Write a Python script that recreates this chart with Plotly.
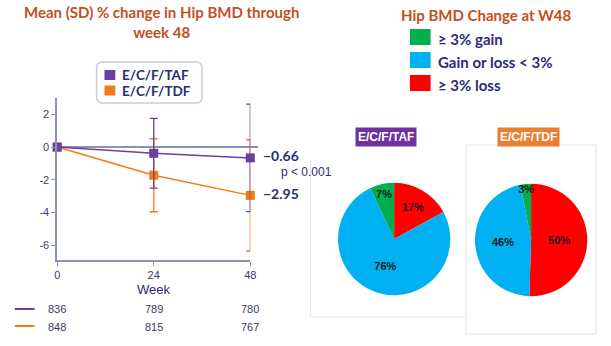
import plotly.graph_objects as go

W, H = 611, 346
def px(x): return x / W
def py(y): return 1 - y / H

weeks = [0, 24, 48]
taf_mean = [0, -0.38, -0.66]
taf_sd = [0, 2.13, 3.28]
tdf_mean = [0, -1.72, -2.95]
tdf_sd = [0, 2.23, 3.40]
taf_n = [836, 789, 780]
tdf_n = [848, 815, 767]

pie_labels = ["\u2265 3% loss", "Gain or loss < 3%", "\u2265 3% gain"]
pie_colors = ["#ff0000", "#00b0f0", "#00b050"]
taf_pie = [17, 76, 7]
tdf_pie = [50, 46, 3]
legend_order = ["\u2265 3% gain", "Gain or loss < 3%", "\u2265 3% loss"]
legend_colors = ["#00b050", "#00b0f0", "#ff0000"]

PURPLE = "#6b3fa0"
ORANGE = "#f07c14"
NAVY = "#2b2b7a"
TITLE = "#c4501f"
AXIS = "#9090b4"

fig = go.Figure()

fig.add_trace(go.Scatter(
    x=weeks, y=tdf_mean, mode="lines+markers",
    line=dict(color=ORANGE, width=1.5),
    marker=dict(symbol="square", size=9, color=ORANGE),
    error_y=dict(type="data", array=tdf_sd, visible=True, color=ORANGE, thickness=1.3, width=4),
    showlegend=False, cliponaxis=False, xaxis="x", yaxis="y"))
fig.add_trace(go.Scatter(
    x=weeks, y=taf_mean, mode="lines+markers",
    line=dict(color=PURPLE, width=1.5),
    marker=dict(symbol="square", size=9, color=PURPLE),
    error_y=dict(type="data", array=taf_sd, visible=True, color=PURPLE, thickness=1.3, width=4),
    showlegend=False, cliponaxis=False, xaxis="x", yaxis="y"))

for vals, dom in [(taf_pie, dict(x=[px(340), px(454)], y=[py(296), py(182)])),
                  (tdf_pie, dict(x=[px(479), px(593)], y=[py(297), py(183)]))]:
    fig.add_trace(go.Pie(
        labels=pie_labels, values=vals, sort=False, direction="clockwise", rotation=0,
        marker=dict(colors=pie_colors, line=dict(width=0)),
        text=[f"{v}%" for v in vals], textinfo="text", textposition="inside",
        insidetextorientation="horizontal",
        textfont=dict(family="Liberation Sans", size=11, color="#1a1a1a", weight="bold"),
        domain=dom, showlegend=False, hoverinfo="skip"))

fig.update_layout(
    width=W, height=H, margin=dict(l=0, r=0, t=0, b=0),
    paper_bgcolor="white", plot_bgcolor="white",
    uniformtext=dict(minsize=11, mode="show"),
    xaxis=dict(domain=[px(55), px(251)], range=[0, 48], tickvals=weeks,
               ticktext=[str(w) for w in weeks], showgrid=False, zeroline=False,
               showline=True, linecolor=AXIS, linewidth=1.5, ticks="outside",
               ticklen=4, tickcolor=AXIS,
               tickfont=dict(family="Liberation Sans", size=11, color="#3a3a6e")),
    yaxis=dict(domain=[py(260), py(98)], range=[-6.9, 3], tickvals=[-6, -4, -2, 0, 2],
               ticktext=["-6", "-4", "-2", "0", "2"], showgrid=False, zeroline=False,
               showline=True, linecolor=AXIS, linewidth=1.5, ticks="outside",
               ticklen=4, tickcolor=AXIS,
               tickfont=dict(family="Liberation Sans", size=11, color="#3a3a6e")),
)

shapes = []
shapes.append(dict(type="line", xref="paper", yref="y", x0=px(55), x1=px(259), y0=0, y1=0,
                   line=dict(color=AXIS, width=2), layer="below"))
x0, x1, y0, y1, r = 95, 202, 62, 103, 6
path = (f"M {px(x0+r)},{py(y0)} L {px(x1-r)},{py(y0)} Q {px(x1)},{py(y0)} {px(x1)},{py(y0+r)} "
        f"L {px(x1)},{py(y1-r)} Q {px(x1)},{py(y1)} {px(x1-r)},{py(y1)} "
        f"L {px(x0+r)},{py(y1)} Q {px(x0)},{py(y1)} {px(x0)},{py(y1-r)} "
        f"L {px(x0)},{py(y0+r)} Q {px(x0)},{py(y0)} {px(x0+r)},{py(y0)} Z")
shapes.append(dict(type="path", xref="paper", yref="paper", path=path,
                   line=dict(color="#c9c9e2", width=1.5), fillcolor="white"))
for i, c in enumerate([PURPLE, ORANGE]):
    yc = 75 + i * 15.5
    shapes.append(dict(type="rect", xref="paper", yref="paper",
                       x0=px(103), x1=px(114), y0=py(yc + 5), y1=py(yc - 5),
                       fillcolor=c, line=dict(width=0)))
for i, c in enumerate([PURPLE, ORANGE]):
    yy = 309 + i * 17
    shapes.append(dict(type="line", xref="paper", yref="paper", x0=px(12), x1=px(32),
                       y0=py(yy), y1=py(yy), line=dict(color=c, width=2)))
shapes.append(dict(type="line", xref="paper", yref="paper", x0=px(312), x1=px(312),
                   y0=py(160), y1=py(317), line=dict(color="#e6e6e6", width=1)))
shapes.append(dict(type="line", xref="paper", yref="paper", x0=px(312), x1=px(470),
                   y0=py(317), y1=py(317), line=dict(color="#e6e6e6", width=1)))
shapes.append(dict(type="rect", xref="paper", yref="paper", x0=px(470), x1=px(602),
                   y0=py(334), y1=py(145), line=dict(color="#e2e2e2", width=1),
                   fillcolor="rgba(0,0,0,0)", layer="below"))
for i, c in enumerate(legend_colors):
    yc = 37 + i * 23
    shapes.append(dict(type="rect", xref="paper", yref="paper",
                       x0=px(413), x1=px(434), y0=py(yc + 8), y1=py(yc - 8),
                       fillcolor=c, line=dict(width=0)))
fig.update_layout(shapes=shapes)

ann = []
TF = "Lato"
def A(**kw):
    kw.setdefault("xanchor", "center")
    kw.setdefault("yanchor", "middle")
    kw.setdefault("showarrow", False)
    kw.setdefault("xref", "paper")
    kw.setdefault("yref", "paper")
    ann.append(kw)

A(x=px(161), y=py(22), text="<b>Mean (SD) % change in Hip BMD through<br>week 48</b>",
  font=dict(family=TF, size=15, color=TITLE), align="center")
A(x=px(491), y=py(15), text="<b>Hip BMD Change at W48</b>",
  font=dict(family=TF, size=15, color=TITLE))
for i, name in enumerate(["E/C/F/TAF", "E/C/F/TDF"]):
    A(x=px(119), y=py(75 + i * 15.5), xanchor="left", text=f"<b>{name}</b>",
      font=dict(family=TF, size=13.5, color=NAVY))
for i, name in enumerate(legend_order):
    A(x=px(439), y=py(39 + i * 23), xanchor="left", text=f"<b>{name}</b>",
      font=dict(family=TF, size=15, color=NAVY))
A(x=px(262), y=taf_mean[-1], yref="y", xanchor="left", yshift=2,
  text=f"<b>\u2212{abs(taf_mean[-1]):.2f}</b>", font=dict(family=TF, size=14, color=NAVY))
A(x=px(262), y=tdf_mean[-1], yref="y", xanchor="left", yshift=2,
  text=f"<b>\u2212{abs(tdf_mean[-1]):.2f}</b>", font=dict(family=TF, size=14, color=NAVY))
A(x=px(280), y=py(172), xanchor="left", text="p < 0.001",
  font=dict(family="Liberation Sans", size=12, color=NAVY))
A(x=24, xref="x", y=py(289), text="Week",
  font=dict(family="Liberation Sans", size=13, color=NAVY))
for vals, yy in [(taf_n, 309), (tdf_n, 327)]:
    for w, v in zip(weeks, vals):
        A(x=w, xref="x", y=py(yy), text=str(v),
          font=dict(family="Liberation Sans", size=11, color="#3a3a6e"))
for name, col, xc in [("E/C/F/TAF", "#7030a0", 388.5), ("E/C/F/TDF", "#ed7d31", 533.5)]:
    A(x=px(xc), y=py(137), text=f"<b>{name}</b>", bgcolor=col, borderpad=2,
      font=dict(family="Liberation Sans", size=12, color="white"))
fig.update_layout(annotations=ann)

fig.write_html("out.html")
